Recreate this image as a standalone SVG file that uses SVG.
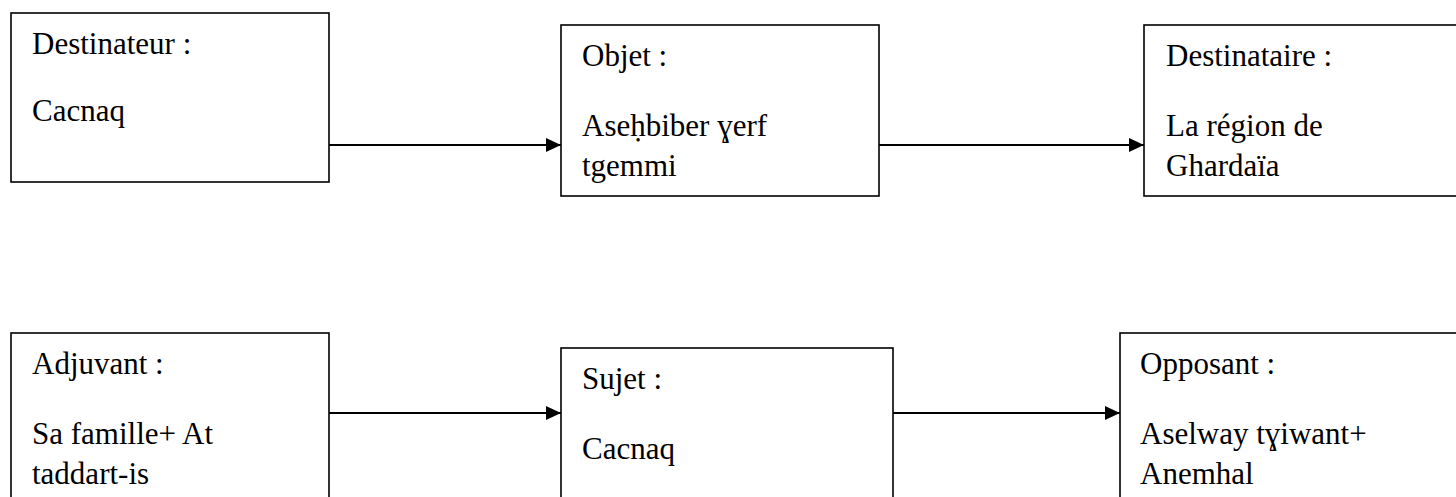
<svg xmlns="http://www.w3.org/2000/svg" width="1456" height="497" viewBox="0 0 1456 497">
  <style>
    .box { fill: #fff; stroke: #000; stroke-width: 1.6; }
    .t { font-family: "Liberation Serif", "Times New Roman", serif; font-size: 31px; fill: #000; }
    .link { stroke: #000; stroke-width: 2.2; fill: none; marker-end: url(#arrow); }
  </style>
  <defs>
    <marker id="arrow" viewBox="0 0 15 14" refX="15" refY="7" markerWidth="15" markerHeight="14" markerUnits="userSpaceOnUse" orient="auto">
      <path d="M0,0 L15,7 L0,14 Z" fill="#000"/>
    </marker>
  </defs>
  <rect width="1456" height="497" fill="#fff"/>

  <!-- top row -->
  <g id="destinateur">
    <rect class="box" x="11" y="13" width="318" height="169"/>
    <text class="t" x="32" y="54">Destinateur :</text>
    <text class="t" x="32" y="121">Cacnaq</text>
  </g>
  <g id="objet">
    <rect class="box" x="561" y="25" width="318" height="171"/>
    <text class="t" x="582" y="66">Objet :</text>
    <text class="t" x="582" y="136">Aseḥbiber ɣerf</text>
    <text class="t" x="582" y="176">tgemmi</text>
  </g>
  <g id="destinataire">
    <rect class="box" x="1144" y="25" width="330" height="171"/>
    <text class="t" x="1166" y="66">Destinataire :</text>
    <text class="t" x="1166" y="136">La région de</text>
    <text class="t" x="1166" y="176">Ghardaïa</text>
  </g>

  <!-- bottom row -->
  <g id="adjuvant">
    <rect class="box" x="11" y="333" width="318" height="180"/>
    <text class="t" x="32" y="374">Adjuvant :</text>
    <text class="t" x="32" y="444">Sa famille+ At</text>
    <text class="t" x="32" y="484">taddart-is</text>
  </g>
  <g id="sujet">
    <rect class="box" x="561" y="348" width="332" height="170"/>
    <text class="t" x="582" y="389">Sujet :</text>
    <text class="t" x="582" y="459">Cacnaq</text>
  </g>
  <g id="opposant">
    <rect class="box" x="1120" y="333" width="354" height="180"/>
    <text class="t" x="1140" y="374">Opposant :</text>
    <text class="t" x="1140" y="444">Aselway tɣiwant+</text>
    <text class="t" x="1140" y="484">Anemhal</text>
  </g>

  <!-- connectors -->
  <g id="connectors">
    <line class="link" x1="329" y1="145" x2="561" y2="145"/>
    <line class="link" x1="879" y1="145" x2="1144" y2="145"/>
    <line class="link" x1="329" y1="413" x2="561" y2="413"/>
    <line class="link" x1="893" y1="413" x2="1120" y2="413"/>
  </g>
</svg>
